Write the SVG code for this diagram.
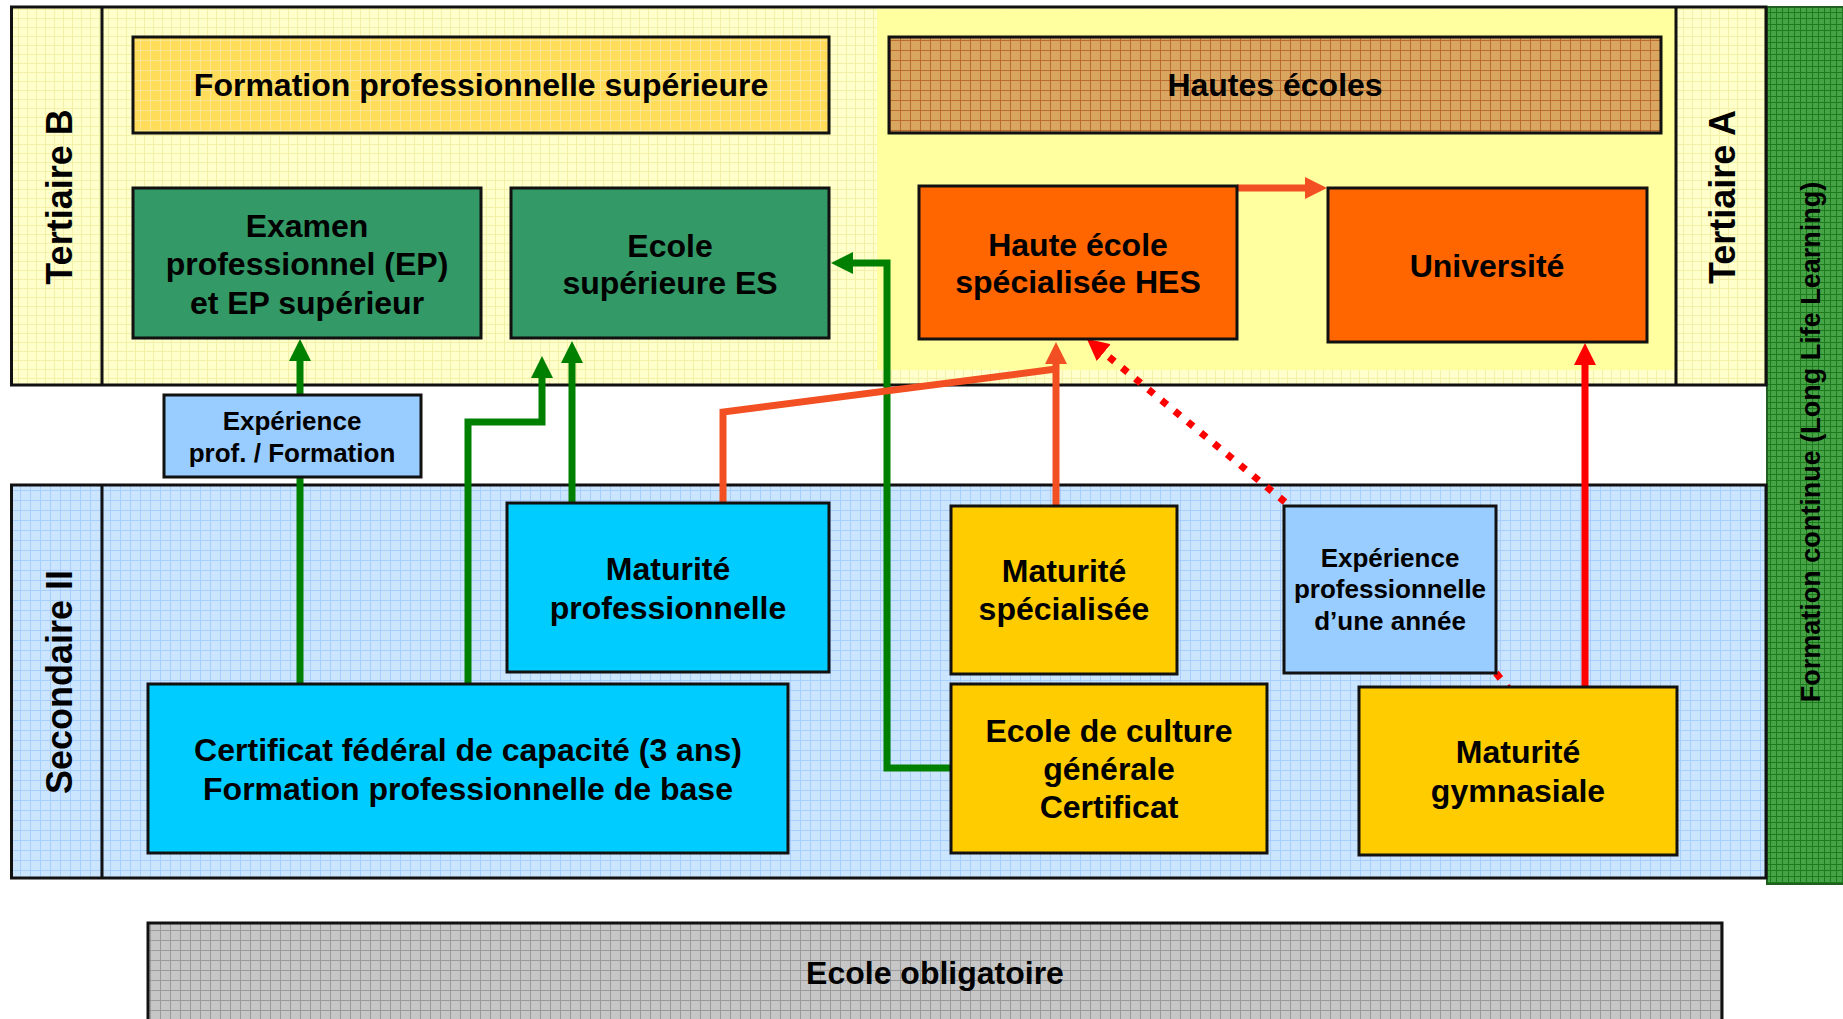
<svg xmlns="http://www.w3.org/2000/svg" width="1843" height="1019" viewBox="0 0 1843 1019">
<style>
  .band{stroke:#111;stroke-width:3}
  .box{stroke:#111;stroke-width:3}
  .t{font-family:"Liberation Sans",Arial,sans-serif;font-weight:bold;font-size:32px;fill:#000;text-anchor:middle}
  .s{font-size:26px}
  .rot{font-size:36px}
  .lbl{font-size:27px}
  .g{fill:none;stroke:#008000;stroke-width:7}
  .o{fill:none;stroke:#F25022;stroke-width:7}
  .r{fill:none;stroke:#FF0000;stroke-width:7}
  .rd{fill:none;stroke:#FF0000;stroke-width:7;stroke-dasharray:7 10}
</style>
<defs>
  <pattern id="pY" width="9" height="9" patternUnits="userSpaceOnUse">
    <rect width="9" height="9" fill="#FFFFCC"/>
    <path d="M0,0.5H9M0.5,0V9" stroke="#F3F0A8" stroke-width="1"/>
  </pattern>
  <pattern id="pB" width="10" height="10" patternUnits="userSpaceOnUse">
    <rect width="10" height="10" fill="#CCE5FF"/>
    <path d="M0,0.5H10M0.5,0V10" stroke="#A6CFFF" stroke-width="1"/>
  </pattern>
  <pattern id="pG" width="6" height="6" patternUnits="userSpaceOnUse">
    <rect width="6" height="6" fill="#46A446"/>
    <path d="M0,0.5H6M0.5,0V6" stroke="#1E7A1E" stroke-width="1"/>
  </pattern>
  <pattern id="pGr" width="10" height="10" patternUnits="userSpaceOnUse">
    <rect width="10" height="10" fill="#C6C6C6"/>
    <path d="M0,0.5H10M0.5,0V10" stroke="#9A9A9A" stroke-width="1"/>
  </pattern>
  <pattern id="pT" width="10" height="10" patternUnits="userSpaceOnUse">
    <rect width="10" height="10" fill="#D9A660"/>
    <path d="M0,0.5H10M0.5,0V10" stroke="#B8642A" stroke-width="0.9"/>
  </pattern>
  <pattern id="pF" width="10" height="10" patternUnits="userSpaceOnUse">
    <rect width="10" height="10" fill="#FFDC5A"/>
    <path d="M0,0.5H10M0.5,0V10" stroke="#F8E690" stroke-width="1"/>
  </pattern>
  <marker id="mG" viewBox="0 0 22 22" markerWidth="22" markerHeight="22" markerUnits="userSpaceOnUse" refX="1" refY="11" orient="auto"><path d="M0,0L22,11L0,22z" fill="#008000"/></marker>
  <marker id="mO" viewBox="0 0 22 22" markerWidth="22" markerHeight="22" markerUnits="userSpaceOnUse" refX="1" refY="11" orient="auto"><path d="M0,0L22,11L0,22z" fill="#F25022"/></marker>
  <marker id="mR" viewBox="0 0 22 22" markerWidth="22" markerHeight="22" markerUnits="userSpaceOnUse" refX="1" refY="11" orient="auto"><path d="M0,0L22,11L0,22z" fill="#FF0000"/></marker>
</defs>

<rect width="1843" height="1019" fill="#FFFFFF"/>

<g id="bands">
  <rect x="1767" y="7" width="80" height="877" fill="url(#pG)" stroke="#1F5F1F" stroke-width="2"/>
  <rect class="band" x="11.5" y="7" width="1754.5" height="378" fill="url(#pY)"/>
  <rect x="877" y="9" width="798" height="361" fill="#FFFFA0"/>
  <line class="band" x1="102" y1="7" x2="102" y2="385"/>
  <line class="band" x1="1676" y1="7" x2="1676" y2="385"/>
  <rect class="band" x="11.5" y="485" width="1754.5" height="393" fill="url(#pB)"/>
  <line class="band" x1="102" y1="485" x2="102" y2="878"/>
  <text class="t rot" transform="translate(72,197) rotate(-90)">Tertiaire B</text>
  <text class="t rot" transform="translate(1735,197) rotate(-90)">Tertiaire A</text>
  <text class="t rot" transform="translate(72,682) rotate(-90)">Secondaire II</text>
  <text class="t lbl" transform="translate(1820,442) rotate(-90)">Formation continue (Long Life Learning)</text>
</g>

<g id="connectors">
  <path class="g" d="M300,684V360" marker-end="url(#mG)"/>
  <path class="g" d="M468,684V422H542V377" marker-end="url(#mG)"/>
  <path class="g" d="M572,503V362" marker-end="url(#mG)"/>
  <path class="g" d="M951,768H887V263H852" marker-end="url(#mG)"/>
  <path class="o" d="M723,503V412L1056,369"/>
  <path class="o" d="M1056,506V363" marker-end="url(#mO)"/>
  <path class="o" d="M1237,188H1306" marker-end="url(#mO)"/>
  <path class="r" d="M1585,687V364" marker-end="url(#mR)"/>
  <path class="rd" d="M1285,502L1103,352" marker-end="url(#mR)"/>
  <path class="rd" d="M1496,673L1508,688"/>
</g>

<g id="fps">
  <rect class="box" x="133" y="37" width="696" height="96" fill="url(#pF)"/>
  <text class="t" x="481" y="96">Formation professionnelle supérieure</text>
</g>
<g id="hautes-ecoles">
  <rect class="box" x="889" y="37" width="772" height="96" fill="url(#pT)"/>
  <text class="t" x="1275" y="96">Hautes écoles</text>
</g>
<g id="examen">
  <rect class="box" x="133" y="188" width="348" height="150" fill="#339966"/>
  <text class="t" x="307" y="237">Examen</text>
  <text class="t" x="307" y="275">professionnel (EP)</text>
  <text class="t" x="307" y="314">et EP supérieur</text>
</g>
<g id="ecole-es">
  <rect class="box" x="511" y="188" width="318" height="150" fill="#339966"/>
  <text class="t" x="670" y="257">Ecole</text>
  <text class="t" x="670" y="294">supérieure ES</text>
</g>
<g id="hes">
  <rect class="box" x="919" y="186" width="318" height="153" fill="#FF6600"/>
  <text class="t" x="1078" y="256">Haute école</text>
  <text class="t" x="1078" y="293">spécialisée HES</text>
</g>
<g id="universite">
  <rect class="box" x="1328" y="188" width="319" height="154" fill="#FF6600"/>
  <text class="t" x="1487" y="277">Université</text>
</g>
<g id="exp-prof">
  <rect class="box" x="164" y="395" width="257" height="82" fill="#99CCFF"/>
  <text class="t s" x="292" y="430">Expérience</text>
  <text class="t s" x="292" y="462">prof. / Formation</text>
</g>
<g id="mat-prof">
  <rect class="box" x="507" y="503" width="322" height="169" fill="#00CCFF"/>
  <text class="t" x="668" y="580">Maturité</text>
  <text class="t" x="668" y="619">professionnelle</text>
</g>
<g id="cfc">
  <rect class="box" x="148" y="684" width="640" height="169" fill="#00CCFF"/>
  <text class="t" x="468" y="761">Certificat fédéral de capacité (3 ans)</text>
  <text class="t" x="468" y="800">Formation professionnelle de base</text>
</g>
<g id="mat-spec">
  <rect class="box" x="951" y="506" width="226" height="168" fill="#FFCC00"/>
  <text class="t" x="1064" y="582">Maturité</text>
  <text class="t" x="1064" y="620">spécialisée</text>
</g>
<g id="exp-annee">
  <rect class="box" x="1284" y="506" width="212" height="167" fill="#99CCFF"/>
  <text class="t s" x="1390" y="567">Expérience</text>
  <text class="t s" x="1390" y="598">professionnelle</text>
  <text class="t s" x="1390" y="630">d’une année</text>
</g>
<g id="ecg">
  <rect class="box" x="951" y="684" width="316" height="169" fill="#FFCC00"/>
  <text class="t" x="1109" y="742">Ecole de culture</text>
  <text class="t" x="1109" y="780">générale</text>
  <text class="t" x="1109" y="818">Certificat</text>
</g>
<g id="mat-gym">
  <rect class="box" x="1359" y="687" width="318" height="168" fill="#FFCC00"/>
  <text class="t" x="1518" y="763">Maturité</text>
  <text class="t" x="1518" y="802">gymnasiale</text>
</g>
<g id="ecole-obligatoire">
  <rect class="box" x="148" y="923" width="1574" height="110" fill="url(#pGr)"/>
  <text class="t" x="935" y="984">Ecole obligatoire</text>
</g>
</svg>
